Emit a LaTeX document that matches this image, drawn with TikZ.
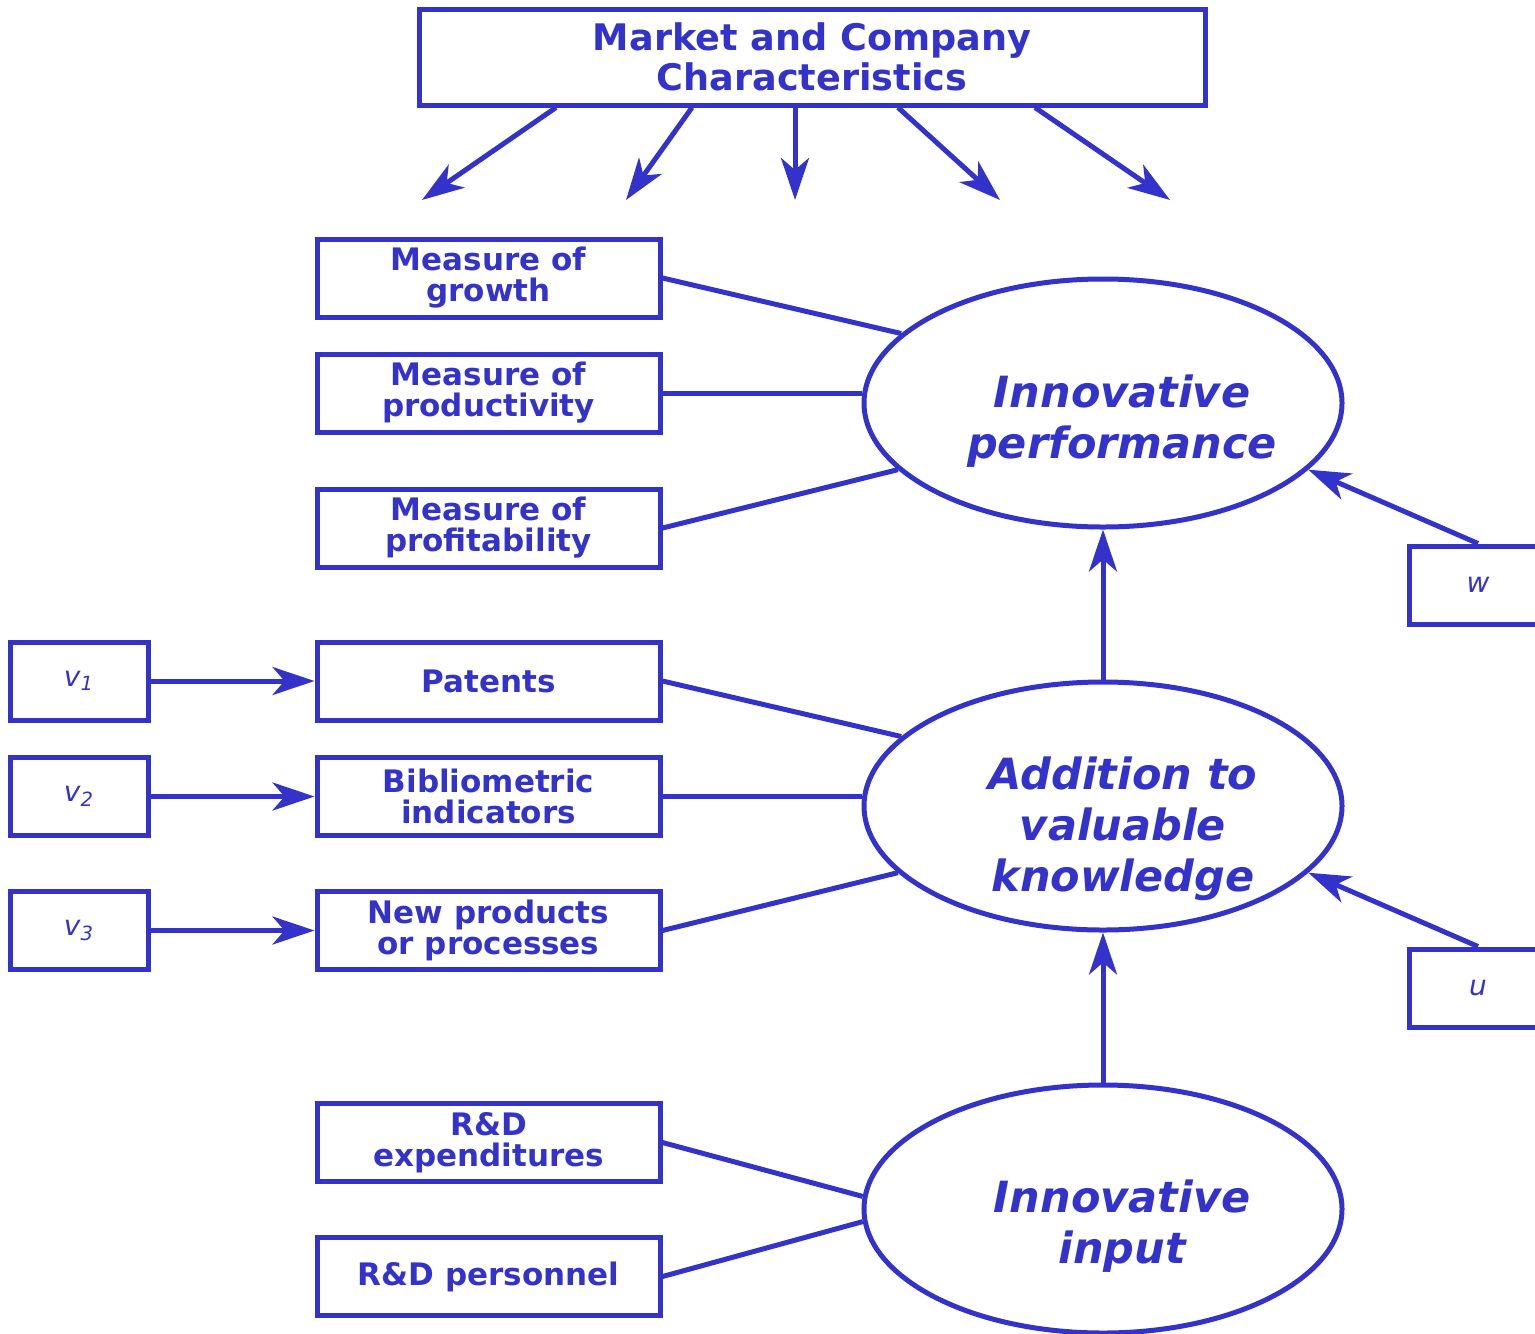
\documentclass[tikz,border=0pt]{standalone}
\usepackage{fontspec}
\setmainfont{DejaVu Sans}
\usepackage{tikz}
\usetikzlibrary{shapes.geometric,arrows.meta,calc}
\definecolor{diagblue}{RGB}{51,51,204}

\begin{document}
\begin{tikzpicture}[x=0.5pt,y=-0.5pt,line width=2.5pt,color=diagblue,
  box/.style={draw,rectangle,minimum width=171.5pt,minimum height=39pt,inner sep=0pt,align=center,
    font=\bfseries\fontsize{15.5}{15.5}\selectfont},
  errbox/.style={draw,rectangle,minimum width=69pt,minimum height=39pt,inner sep=0pt,
    font=\itshape\fontsize{14}{16}\selectfont},
  latent/.style={draw,ellipse,minimum width=239pt,minimum height=124pt,inner sep=0pt},
  latenttext/.style={align=center,inner sep=0pt,font=\bfseries\itshape\fontsize{21.5}{25.5}\selectfont},
  arr/.style={-{Stealth[length=21pt,width=14pt,inset=6pt]}}]
\useasboundingbox (0,0) rectangle (1535,1333);

\node (mkt) [box,minimum width=393pt,minimum height=48pt,font=\bfseries\fontsize{18.3}{20}\selectfont]
  at (812,57) {Market and Company\\Characteristics};

\node (perf) [latent] at (1103,403) {};
\node (know) [latent] at (1103,806) {};
\node (input) [latent] at (1103,1209) {};
\node (perftxt) [latenttext] at ([shift={(19,18)}]perf) {Innovative\\performance};
\node (knowtxt) [latenttext] at ([shift={(20,23)}]know) {Addition to\\valuable\\knowledge};
\node (inputtxt) [latenttext] at ([shift={(19,17)}]input) {Innovative\\input};

\node (growth) [box] at (488.5,278) {Measure of\\growth};
\node (prod) [box] at (488.5,393) {Measure of\\productivity};
\node (profit) [box] at (488.5,528) {Measure of\\profitability};
\node (pat) [box] at (488.5,681) {Patents};
\node (bib) [box] at (488.5,796.5) {Bibliometric\\indicators};
\node (newp) [box] at (488.5,930.5) {New products\\or processes};
\node (rdexp) [box] at (488.5,1142.5) {R\&D\\expenditures};
\node (rdpers) [box] at (488.5,1276.5) {R\&D personnel};

\node (v1) [errbox] at (79,681) {v\textsubscript{1}};
\node (v2) [errbox] at (79,796.5) {v\textsubscript{2}};
\node (v3) [errbox] at (79,930.5) {v\textsubscript{3}};
\node (w) [errbox] at (1478,585) {w};
\node (u) [errbox] at (1478,988) {u};

% indicators
\draw (growth.east) -- (perf.161);
\draw (prod.east) -- (prod.east -| perf.west);
\draw (profit.east) -- (perf.198);
\draw (pat.east) -- (know.161);
\draw (bib.east) -- (bib.east -| know.west);
\draw (newp.east) -- (know.198);
\draw (rdexp.east) -- (input.177);
\draw (rdpers.east) -- (input.183);

% paths
\draw [arr] (know.north) -- (perf.south);
\draw [arr] (input.north) -- (know.south);
\draw [arr] (w.north) -- (perf.342);
\draw [arr] (u.north) -- (know.342);
\foreach \v/\m in {v1/pat,v2/bib,v3/newp}
  \draw [arr] (\v.east) -- (\m.west);

\foreach \dx/\ex [count=\i] in {-256/422,-120/626,-17/795,86/1000,223/1170} {
  \coordinate (end\i) at (\ex,200);
  \draw [arr] ($(mkt.south)+(\dx,0)$) -- (end\i);
}
\end{tikzpicture}
\end{document}
